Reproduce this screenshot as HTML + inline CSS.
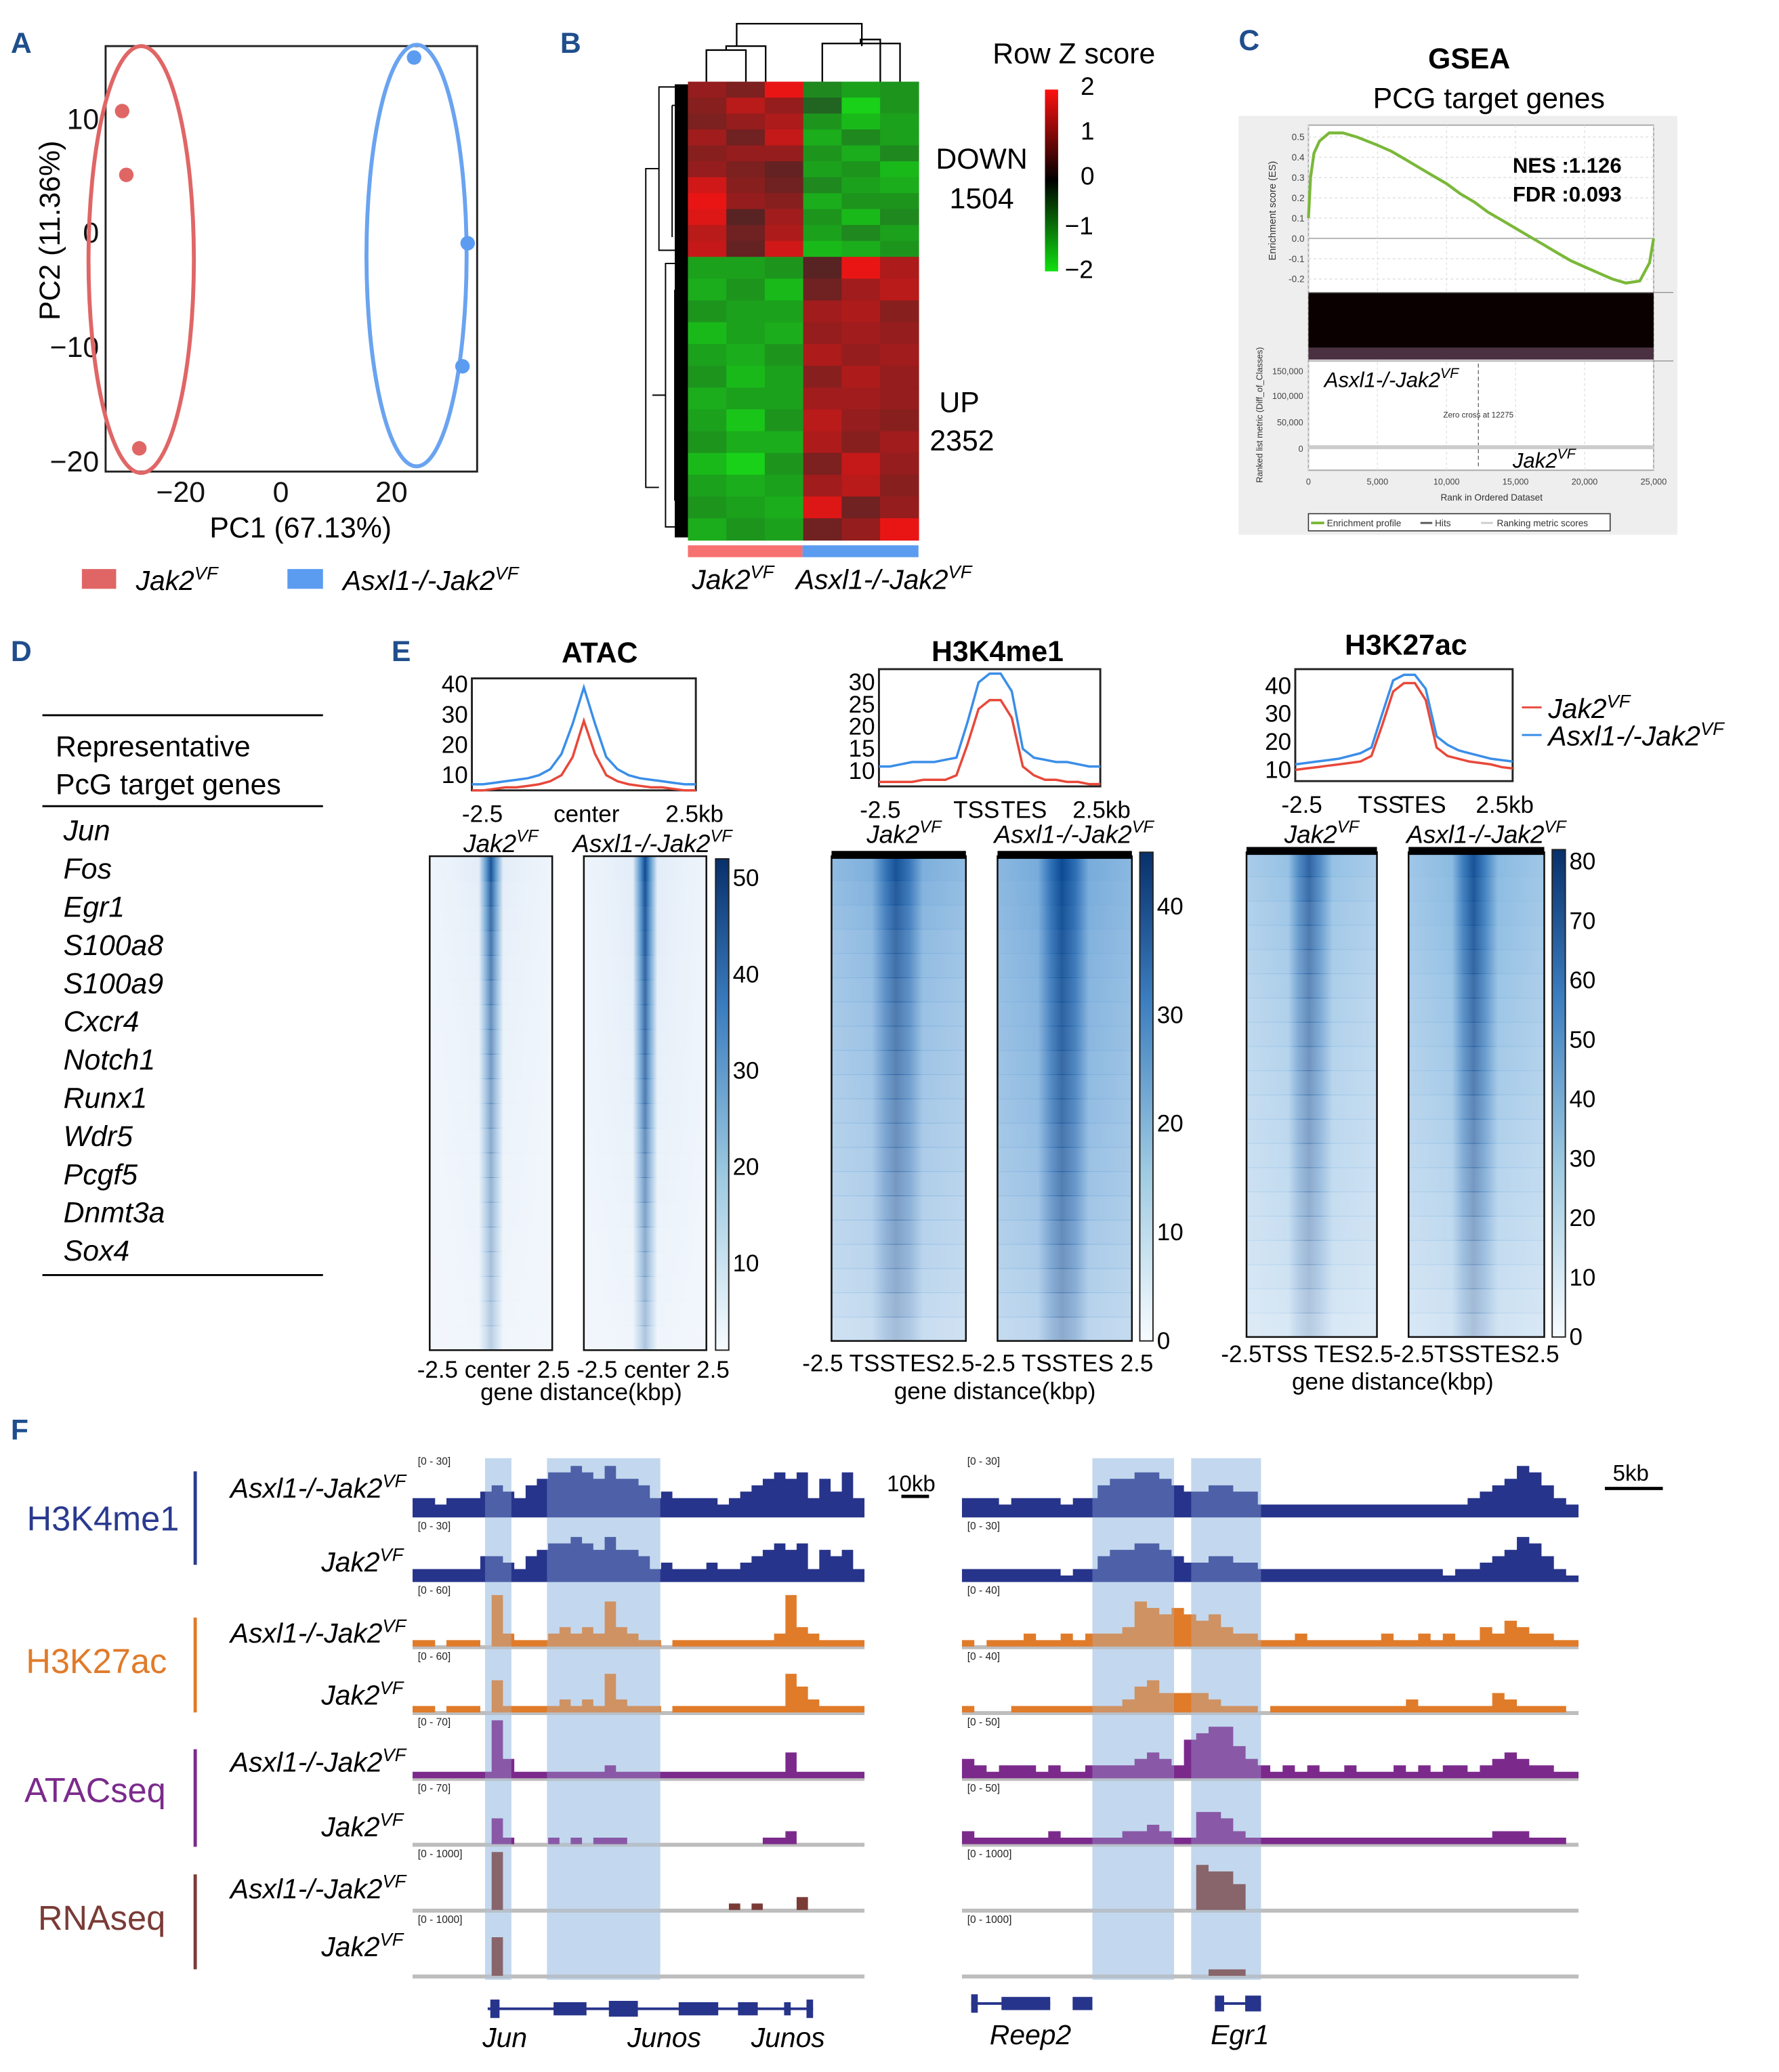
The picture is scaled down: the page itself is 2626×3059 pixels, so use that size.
<!DOCTYPE html>
<html><head><meta charset="utf-8">
<style>
html,body{margin:0;padding:0;background:#fff;}
svg{display:block;font-family:"Liberation Sans",Arial,sans-serif;}
.it{font-style:italic;}
</style></head>
<body>
<svg id="fig" xmlns="http://www.w3.org/2000/svg" width="2626" height="3059" viewBox="0 0 1350 1573">
<defs>
  <linearGradient id="zcb" x1="0" y1="0" x2="0" y2="1">
    <stop offset="0" stop-color="#ff1010"/><stop offset="0.5" stop-color="#000"/><stop offset="1" stop-color="#10e010"/>
  </linearGradient>
  <linearGradient id="bcb" x1="0" y1="1" x2="0" y2="0">
    <stop offset="0" stop-color="#f7fbff"/><stop offset="0.35" stop-color="#9ecae1"/><stop offset="0.7" stop-color="#3b7dbf"/><stop offset="1" stop-color="#08306b"/>
  </linearGradient>
  <linearGradient id="gAtac" x1="0" x2="1">
    <stop offset="0" stop-color="#eef4fb"/><stop offset="0.4" stop-color="#e3edf8"/><stop offset="0.46" stop-color="#5a96cc"/><stop offset="0.5" stop-color="#0f4c94"/><stop offset="0.54" stop-color="#5a96cc"/><stop offset="0.6" stop-color="#e3edf8"/><stop offset="1" stop-color="#eef4fb"/>
  </linearGradient>
  <linearGradient id="gK4" x1="0" x2="1">
    <stop offset="0" stop-color="#8bb8e0"/><stop offset="0.3" stop-color="#78acdb"/><stop offset="0.4" stop-color="#2d6fb5"/><stop offset="0.48" stop-color="#0d4a92"/><stop offset="0.58" stop-color="#2d6fb5"/><stop offset="0.68" stop-color="#78acdb"/><stop offset="1" stop-color="#8bb8e0"/>
  </linearGradient>
  <linearGradient id="gK27" x1="0" x2="1">
    <stop offset="0" stop-color="#9cc4e6"/><stop offset="0.32" stop-color="#86b8e0"/><stop offset="0.4" stop-color="#3478bb"/><stop offset="0.48" stop-color="#0d4a92"/><stop offset="0.56" stop-color="#3478bb"/><stop offset="0.66" stop-color="#86b8e0"/><stop offset="1" stop-color="#9cc4e6"/>
  </linearGradient>
</defs>

<g font-weight="bold" font-size="22" fill="#1f4e8c">
<text x="8" y="40">A</text>
<text x="425" y="40">B</text>
<text x="940" y="38">C</text>
<text x="8" y="502">D</text>
<text x="297" y="502">E</text>
<text x="8" y="1093">F</text>
</g>

<g id="pA">
<rect x="80" y="35" width="282" height="323" fill="none" stroke="#222" stroke-width="1.5"/>
<g font-size="22" fill="#111">
<text x="75" y="98" text-anchor="end">10</text>
<text x="75" y="184" text-anchor="end">0</text>
<text x="75" y="271" text-anchor="end">−10</text>
<text x="75" y="358" text-anchor="end">−20</text>
</g>
<g font-size="22" fill="#111" text-anchor="middle">
<text x="137" y="381">−20</text><text x="213" y="381">0</text><text x="297" y="381">20</text>
</g>
<text x="228" y="408" font-size="22" text-anchor="middle">PC1 (67.13%)</text>
<text transform="translate(45,175) rotate(-90)" font-size="22" text-anchor="middle">PC2 (11.36%)</text>
<ellipse cx="107" cy="197" rx="40" ry="162" fill="none" stroke="#e06666" stroke-width="3"/>
<ellipse cx="316" cy="194" rx="38" ry="160" fill="none" stroke="#6aa3f0" stroke-width="3"/>
<g id="pcaPts"></g>
<rect x="62" y="432" width="26" height="15" fill="#e06666"/>
<text x="103" y="448" font-size="21" class="it">Jak2<tspan dy="-8" font-size="14">VF</tspan></text>
<rect x="218" y="432" width="27" height="15" fill="#5b9cf0"/>
<text x="260" y="448" font-size="21" class="it">Asxl1-/-Jak2<tspan dy="-8" font-size="14">VF</tspan></text>
</g>

<g id="pB">
<g id="hmB"></g>
<g stroke="#000" stroke-width="1.2" fill="none">
<path d="M536 62V38H566V62 M551 38V35H581V62 M559 35V18H654V35 M624 62V33H683V62 M653 33V30H668V62 M654 30V35"/>
</g>
<g stroke="#000" stroke-width="1" fill="none">
<path d="M522 66H500V190H522 M500 128H490V370H500 M522 200H505V400H522 M505 300H495 M510 80H522 M510 80V180 M512 220V380 M512 260H522 M514 320H522"/>
<rect x="512" y="64" width="10" height="344" fill="#000" stroke="none"/>
</g>
<rect x="522" y="414" width="87" height="9" fill="#f87171"/>
<rect x="609" y="414" width="88" height="9" fill="#5b9cf0"/>
<text x="525" y="447" font-size="21" class="it">Jak2<tspan dy="-8" font-size="14">VF</tspan></text>
<text x="604" y="447" font-size="21" class="it">Asxl1-/-Jak2<tspan dy="-8" font-size="14">VF</tspan></text>
<text x="815" y="48" font-size="22" text-anchor="middle">Row Z score</text>
<rect x="793" y="68" width="10" height="138" fill="url(#zcb)"/>
<g font-size="19">
<text x="820" y="72">2</text><text x="820" y="106">1</text><text x="820" y="140">0</text><text x="808" y="178">−1</text><text x="808" y="211">−2</text>
</g>
<text x="745" y="128" font-size="22" text-anchor="middle">DOWN</text>
<text x="745" y="158" font-size="22" text-anchor="middle">1504</text>
<text x="728" y="313" font-size="22" text-anchor="middle">UP</text>
<text x="730" y="342" font-size="22" text-anchor="middle">2352</text>
</g>

<g id="pC">
<text x="1115" y="52" font-size="22" font-weight="bold" text-anchor="middle">GSEA</text>
<text x="1130" y="82" font-size="22" text-anchor="middle">PCG target genes</text>
<rect x="940" y="88" width="333" height="318" fill="#eeeeee"/>
<rect x="993" y="95" width="262" height="262" fill="#fff" stroke="#aaa" stroke-width="1"/>
<g id="gseaGrid"></g>
<rect x="993" y="222" width="262" height="42" fill="#0a0000"/>
<rect x="993" y="264" width="262" height="9" fill="#4a3040"/>
<line x1="993" y1="222" x2="1270" y2="222" stroke="#999" stroke-width="0.8"/>
<line x1="993" y1="274" x2="1270" y2="274" stroke="#999" stroke-width="0.8"/>
<path id="gseaES" fill="none" stroke="#7ab839" stroke-width="2.2"/>
<line x1="1122" y1="276" x2="1122" y2="355" stroke="#666" stroke-width="0.7" stroke-dasharray="3 2"/>
<text x="1122" y="317" font-size="6" text-anchor="middle" fill="#333">Zero cross at 12275</text>
<rect x="993" y="338" width="262" height="3" fill="#ccc"/>
<g font-size="7" fill="#444" text-anchor="end" id="gseaYt"></g>
<g font-size="6.5" fill="#444" text-anchor="end">
<text x="989" y="284">150,000</text><text x="989" y="303">100,000</text><text x="989" y="323">50,000</text><text x="989" y="343">0</text>
</g>
<g font-size="6.5" fill="#444" text-anchor="middle" id="gseaXt"></g>
<text x="1132" y="380" font-size="7" text-anchor="middle" fill="#333">Rank in Ordered Dataset</text>
<text transform="translate(968,160) rotate(-90)" font-size="7.5" text-anchor="middle" fill="#333">Enrichment score (ES)</text>
<text transform="translate(958,315) rotate(-90)" font-size="6.5" text-anchor="middle" fill="#333">Ranked list metric (Diff_of_Classes)</text>
<text x="1148" y="131" font-size="16" font-weight="bold">NES :1.126</text>
<text x="1148" y="153" font-size="16" font-weight="bold">FDR :0.093</text>
<text x="1005" y="294" font-size="16" class="it">Asxl1-/-Jak2<tspan dy="-7" font-size="11">VF</tspan></text>
<text x="1148" y="355" font-size="16" class="it">Jak2<tspan dy="-7" font-size="11">VF</tspan></text>
<rect x="993" y="390" width="229" height="13" fill="#fff" stroke="#333" stroke-width="0.8"/>
<line x1="995" y1="397" x2="1005" y2="397" stroke="#7ab839" stroke-width="2"/>
<text x="1007" y="399.5" font-size="7" fill="#333">Enrichment profile</text>
<line x1="1078" y1="397" x2="1087" y2="397" stroke="#555" stroke-width="1.5"/>
<text x="1089" y="399.5" font-size="7" fill="#333">Hits</text>
<line x1="1124" y1="397" x2="1133" y2="397" stroke="#ccc" stroke-width="1.5"/>
<text x="1136" y="399.5" font-size="7" fill="#333">Ranking metric scores</text>
</g>

<g id="pD">
<line x1="32" y1="543" x2="245" y2="543" stroke="#000" stroke-width="1.5"/>
<text x="42" y="574" font-size="22">Representative</text>
<text x="42" y="603" font-size="22">PcG target genes</text>
<line x1="32" y1="612" x2="245" y2="612" stroke="#000" stroke-width="1.5"/>
<g font-size="22" class="it" id="geneList"></g>
<line x1="32" y1="968" x2="245" y2="968" stroke="#000" stroke-width="1.5"/>
</g>

<g id="pE">
<text x="455" y="503" font-size="22" font-weight="bold" text-anchor="middle">ATAC</text>
<text x="757" y="502" font-size="22" font-weight="bold" text-anchor="middle">H3K4me1</text>
<text x="1067" y="497" font-size="22" font-weight="bold" text-anchor="middle">H3K27ac</text>
<g id="profiles"></g>
<g id="heatmapsE"></g>
<line x1="1155" y1="537" x2="1170" y2="537" stroke="#e8483a" stroke-width="1.5"/>
<text x="1175" y="545" font-size="21" class="it">Jak2<tspan dy="-8" font-size="14">VF</tspan></text>
<line x1="1155" y1="558" x2="1170" y2="558" stroke="#3a8ee8" stroke-width="1.5"/>
<text x="1175" y="566" font-size="21" class="it">Asxl1-/-Jak2<tspan dy="-8" font-size="14">VF</tspan></text>
</g>

<g id="pF">
<g id="bandsF"></g>
<g id="tracksF"></g>
<g id="bandsTop"></g>
<g font-size="26">
<text x="78" y="1162" fill="#2a3a8f" text-anchor="middle">H3K4me1</text>
<text x="73" y="1270" fill="#e07b2a" text-anchor="middle">H3K27ac</text>
<text x="72" y="1368" fill="#7b2a8c" text-anchor="middle">ATACseq</text>
<text x="77" y="1465" fill="#7a3b36" text-anchor="middle">RNAseq</text>
</g>
<g stroke-width="2.5">
<line x1="148" y1="1117" x2="148" y2="1188" stroke="#2a3a8f"/>
<line x1="148" y1="1228" x2="148" y2="1300" stroke="#e07b2a"/>
<line x1="148" y1="1328" x2="148" y2="1402" stroke="#7b2a8c"/>
<line x1="148" y1="1423" x2="148" y2="1495" stroke="#7a3b36"/>
</g>
<g id="sampleLabels" font-size="21" class="it" text-anchor="end"></g>
<g font-size="17">
<text x="673" y="1132">10kb</text><line x1="684" y1="1136" x2="705" y2="1136" stroke="#000" stroke-width="2.5"/>
<text x="1224" y="1124">5kb</text><line x1="1218" y1="1130" x2="1262" y2="1130" stroke="#000" stroke-width="2.5"/>
</g>
<g id="genesF"></g>
<g font-size="21" class="it" text-anchor="middle">
<text x="383" y="1554">Jun</text><text x="504" y="1554">Junos</text><text x="598" y="1554">Junos</text>
<text x="782" y="1552">Reep2</text><text x="941" y="1552">Egr1</text>
</g>
</g>
</svg>

<script>
var NS="http://www.w3.org/2000/svg";
function mk(tag,parent){var e=document.createElementNS(NS,tag);parent.appendChild(e);return e;}

/* ---------- Panel A data ---------- */
var pcaJakX=[-30.5,-29.7,-27.2];
var pcaJakY=[10.6,5.0,-19.0];
var pcaAsxX=[25.6,35.9,34.9];
var pcaAsxY=[15.3,-1.0,-11.8];
function pcx(v){return 213+v*3.95;}
function pcy(v){return 176-v*8.65;}
(function(){
 var g=document.getElementById('pcaPts');
 for(var i=0;i<pcaJakX.length;i++){var c=mk('circle',g);c.setAttribute('cx',pcx(pcaJakX[i]));c.setAttribute('cy',pcy(pcaJakY[i]));c.setAttribute('r',5.5);c.setAttribute('fill','#e06666');
  
  }
 for(var j=0;j<pcaAsxX.length;j++){var d=mk('circle',g);d.setAttribute('cx',pcx(pcaAsxX[j]));d.setAttribute('cy',pcy(pcaAsxY[j]));d.setAttribute('r',5.5);d.setAttribute('fill','#5b9cf0');
  
  }
})();

/* ---------- Panel B data ---------- */
var zDown=[[0.9,0.7,1.6,-0.8,-1.0,-0.9],[0.8,1.2,0.9,-0.5,-1.4,-0.9],[0.7,0.9,1.1,-0.9,-1.2,-1.0],[1.0,0.6,1.3,-1.1,-0.8,-1.0],[0.8,0.9,0.9,-0.9,-1.1,-0.8],[0.9,0.7,0.5,-1.0,-0.9,-1.2],[1.4,0.8,0.6,-0.8,-1.0,-1.1],[1.6,0.9,0.8,-1.1,-0.9,-0.9],[1.5,0.4,1.0,-0.9,-1.2,-0.8],[1.2,0.6,1.1,-1.0,-0.8,-1.0],[1.3,0.5,1.4,-1.2,-1.1,-0.9]];
var zUp=[[-1.0,-1.0,-0.9,0.4,1.6,1.1],[-1.1,-0.9,-1.2,0.6,1.0,1.2],[-0.9,-1.0,-1.0,1.0,1.1,0.8],[-1.2,-1.0,-1.1,0.9,1.0,0.9],[-1.0,-1.1,-0.9,1.1,0.9,1.0],[-0.9,-1.2,-1.0,0.8,1.1,0.9],[-1.1,-1.0,-1.0,1.0,1.0,0.9],[-1.0,-1.3,-0.9,1.2,0.9,0.8],[-0.9,-1.1,-1.1,1.1,0.8,1.0],[-1.2,-1.4,-0.9,0.7,1.3,0.9],[-1.0,-1.1,-1.0,1.0,1.2,0.8],[-0.9,-1.0,-1.1,1.5,0.6,0.9],[-1.1,-0.9,-1.0,0.6,0.9,1.6]];
function zColor(v){var a=Math.min(1,Math.abs(v)/1.7);var c=Math.round(40+a*205);var l=Math.round(40-a*20);return v>=0?'rgb('+c+','+l+','+l+')':'rgb('+l+','+c+','+l+')';}
(function(){
 var g=document.getElementById('hmB');var x0=522,w=29.17,top=62,mid=195,bot=410;
 var hD=(mid-top)/zDown.length,hU=(bot-mid)/zUp.length;
 zDown.forEach(function(row,r){row.forEach(function(v,c){var e=mk('rect',g);e.setAttribute('x',x0+c*w);e.setAttribute('y',top+r*hD);e.setAttribute('width',w+0.4);e.setAttribute('height',hD+0.4);e.setAttribute('fill',zColor(v));
  
  });});
 zUp.forEach(function(row,r){row.forEach(function(v,c){var e=mk('rect',g);e.setAttribute('x',x0+c*w);e.setAttribute('y',mid+r*hU);e.setAttribute('width',w+0.4);e.setAttribute('height',hU+0.4);e.setAttribute('fill',zColor(v));
  
  });});
})();

/* ---------- Panel C data ---------- */
var esRanks=[0,150,400,800,1500,2500,3500,5000,6000,7000,8000,9000,10000,11000,12000,13000,14000,15000,16000,17000,18000,19000,20000,21000,22000,23000,24000,24700,25000];
var esValues=[0.10,0.30,0.42,0.48,0.52,0.52,0.50,0.46,0.43,0.39,0.35,0.31,0.27,0.22,0.18,0.13,0.09,0.05,0.01,-0.03,-0.07,-0.11,-0.14,-0.17,-0.20,-0.22,-0.21,-0.12,0.0];
var esTicks=[0.5,0.4,0.3,0.2,0.1,0.0,-0.1,-0.2];
var rankTicks=[0,5000,10000,15000,20000,25000];
var rankTickLabels=['0','5,000','10,000','15,000','20,000','25,000'];
function gx(r){return 993+r/25000*262;}
function gy(v){return 181-v*154;}
(function(){
 var d='';for(var i=0;i<esRanks.length;i++){d+=(i?'L':'M')+gx(esRanks[i]).toFixed(1)+' '+gy(esValues[i]).toFixed(1);}
 document.getElementById('gseaES').setAttribute('d',d);
 var gg=document.getElementById('gseaGrid'),yt=document.getElementById('gseaYt'),xt=document.getElementById('gseaXt');
 esTicks.forEach(function(t){var l=mk('line',gg);l.setAttribute('x1',993);l.setAttribute('x2',1255);l.setAttribute('y1',gy(t));l.setAttribute('y2',gy(t));l.setAttribute('stroke',t===0?'#999':'#ddd');if(t!==0)l.setAttribute('stroke-dasharray','2 2');l.setAttribute('stroke-width',0.7);
  
  
  var tx=mk('text',yt);tx.setAttribute('x',990);tx.setAttribute('y',gy(t)+2.5);tx.textContent=t.toFixed(1);
  
  });
 rankTicks.forEach(function(r,i){var l=mk('line',gg);l.setAttribute('x1',gx(r));l.setAttribute('x2',gx(r));l.setAttribute('y1',95);l.setAttribute('y2',357);l.setAttribute('stroke','#e2e2e2');l.setAttribute('stroke-dasharray','2 2');l.setAttribute('stroke-width',0.7);
  
  
  var tx=mk('text',xt);tx.setAttribute('x',gx(r));tx.setAttribute('y',368);tx.textContent=rankTickLabels[i];
  
  });
})();

/* ---------- Panel D ---------- */
var pcgGenes=['Jun','Fos','Egr1','S100a8','S100a9','Cxcr4','Notch1','Runx1','Wdr5','Pcgf5','Dnmt3a','Sox4'];
(function(){var g=document.getElementById('geneList');pcgGenes.forEach(function(n,i){var t=mk('text',g);t.setAttribute('x',48);t.setAttribute('y',638+i*29);t.textContent=n;
 
 });})();

/* ---------- Panel E data ---------- */
var atacJak=[5,5,5.5,6,6,6.5,7,8,10,16,28,17,10,8,7,6.5,6,6,5.5,5,5];
var atacAsx=[7,7,7.5,8,8.5,9,10,12,17,27,39,27,16,12,10,9,8.5,8,7.5,7,7];
var k4Jak=[7.5,7.5,7.5,7.5,8,8,8,9,16,24,26,26,22,11,9,8,8,7.5,7.5,7,7];
var k4Asx=[11,11,11.5,12,12,12,12.5,13,21,30,32,32,28,15,13,12.5,12,12,11.5,11,11];
var k27Jak=[10,10.5,11,11.5,12,12.5,13,15,26,38,41,41,35,18,15,14,13,12.5,12,11,10.5];
var k27Asx=[12,12.5,13,13.5,14,15,16,18,30,42,44,44,39,22,19,17,16,15,14,13.5,13];
var rowAtacJak=[0.95,0.85,0.8,0.75,0.7,0.65,0.6,0.58,0.55,0.5,0.48,0.45,0.42,0.4,0.38,0.35,0.33,0.3,0.28,0.25];
var rowAtacAsx=[1,0.95,0.92,0.9,0.85,0.82,0.8,0.78,0.75,0.72,0.68,0.62,0.58,0.55,0.5,0.45,0.42,0.38,0.34,0.3];
var rowK4Jak=[0.95,0.9,0.85,0.8,0.78,0.75,0.72,0.7,0.68,0.65,0.62,0.6,0.58,0.55,0.52,0.5,0.47,0.44,0.4,0.35];
var rowK4Asx=[1,0.97,0.95,0.92,0.9,0.88,0.86,0.85,0.82,0.8,0.78,0.75,0.72,0.7,0.66,0.62,0.58,0.54,0.5,0.45];
var rowK27Jak=[0.85,0.8,0.75,0.72,0.68,0.65,0.62,0.6,0.57,0.55,0.52,0.5,0.47,0.45,0.42,0.4,0.37,0.34,0.3,0.26];
var rowK27Asx=[0.95,0.92,0.9,0.87,0.84,0.8,0.78,0.75,0.72,0.7,0.66,0.62,0.58,0.55,0.52,0.48,0.44,0.4,0.36,0.32];
var cbAtacTicks=[50,40,30,20,10];
var cbK4Ticks=[40,30,20,10,0];
var cbK27Ticks=[80,70,60,50,40,30,20,10,0];

function profile(g,name,box,ymin,ymax,yticks,jak,asx,xl){
 var r=mk('rect',g);r.setAttribute('x',box[0]);r.setAttribute('y',box[1]);r.setAttribute('width',box[2]-box[0]);r.setAttribute('height',box[3]-box[1]);r.setAttribute('fill','#fff');r.setAttribute('stroke','#222');r.setAttribute('stroke-width',1.5);
 
 
 function px(i){return box[0]+i/(jak.length-1)*(box[2]-box[0]);}
 function py(v){return box[3]-(v-ymin)/(ymax-ymin)*(box[3]-box[1]);}
 [[jak,'#e8483a','jak2'],[asx,'#3a8ee8','asxl1']].forEach(function(s){var d='';s[0].forEach(function(v,i){d+=(i?'L':'M')+px(i).toFixed(1)+' '+py(v).toFixed(1);});
  var p=mk('path',g);p.setAttribute('d',d);p.setAttribute('fill','none');p.setAttribute('stroke',s[1]);p.setAttribute('stroke-width',1.8);
  
  });
 yticks.forEach(function(t){var tx=mk('text',g);tx.setAttribute('x',box[0]-3);tx.setAttribute('y',py(t)+6);tx.setAttribute('text-anchor','end');tx.setAttribute('font-size',18);tx.textContent=t;
  
  });
 xl.forEach(function(l){var tx=mk('text',g);tx.setAttribute('x',l[0]);tx.setAttribute('y',box[3]+24);tx.setAttribute('text-anchor','middle');tx.setAttribute('font-size',18);tx.textContent=l[1];
  
  });
}
var pg=document.getElementById('profiles');
profile(pg,'atac',[358,515,528,600],5,42,[40,30,20,10],atacJak,atacAsx,[[366,'-2.5'],[445,'center'],[527,'2.5kb']]);
profile(pg,'h3k4me1',[667,508,835,597],6.5,33,[30,25,20,15,10],k4Jak,k4Asx,[[668,'-2.5'],[741,'TSS'],[777,'TES'],[836,'2.5kb']]);
profile(pg,'h3k27ac',[983,508,1148,593],6,46,[40,30,20,10],k27Jak,k27Asx,[[988,'-2.5'],[1048,'TSS'],[1080,'TES'],[1142,'2.5kb']]);

function hm(g,name,x,y,w,h,rows,grad,topbar){
 var bg=mk('rect',g);bg.setAttribute('x',x);bg.setAttribute('y',y);bg.setAttribute('width',w);bg.setAttribute('height',h);bg.setAttribute('fill','#f4f8fc');
 
 
 var rh=h/rows.length;
 rows.forEach(function(v,i){var r=mk('rect',g);r.setAttribute('x',x);r.setAttribute('y',y+i*rh);r.setAttribute('width',w);r.setAttribute('height',rh+0.5);r.setAttribute('fill','url(#'+grad+')');r.setAttribute('opacity',v);
  
  });
 var f=mk('rect',g);f.setAttribute('x',x);f.setAttribute('y',y);f.setAttribute('width',w);f.setAttribute('height',h);f.setAttribute('fill','none');f.setAttribute('stroke','#111');f.setAttribute('stroke-width',1.3);
 
 
 if(topbar){var t=mk('rect',g);t.setAttribute('x',x);t.setAttribute('y',y-4);t.setAttribute('width',w);t.setAttribute('height',6);t.setAttribute('fill','#000');
  
  }
}
function cbar(g,name,x,y,h,ticks,vmin,vmax){
 var r=mk('rect',g);r.setAttribute('x',x);r.setAttribute('y',y);r.setAttribute('width',10);r.setAttribute('height',h);r.setAttribute('fill','url(#bcb)');r.setAttribute('stroke','#222');r.setAttribute('stroke-width',1);
 
 
 ticks.forEach(function(t){var yy=y+h-(t-vmin)/(vmax-vmin)*h;var tx=mk('text',g);tx.setAttribute('x',x+13);tx.setAttribute('y',yy+6);tx.setAttribute('font-size',18);tx.textContent=t;
  
  });
}
function lbl(g,name,x,y,txt,sup,size,anchor){var t=mk('text',g);t.setAttribute('x',x);t.setAttribute('y',y);t.setAttribute('font-size',size||19);t.setAttribute('font-style','italic');if(anchor)t.setAttribute('text-anchor',anchor);t.textContent=txt;
 
 
 if(sup){var s=mk('tspan',t);s.setAttribute('dy',-8);s.setAttribute('font-size',13);s.textContent=sup;}}
function txt(g,name,x,y,s,size){var t=mk('text',g);t.setAttribute('x',x);t.setAttribute('y',y);t.setAttribute('font-size',size||18);t.setAttribute('text-anchor','middle');t.textContent=s;
 
 }
var hg=document.getElementById('heatmapsE');
hm(hg,'atac-jak2',326,650,93,375,rowAtacJak,'gAtac',false);
hm(hg,'atac-asxl1',443,650,93,375,rowAtacAsx,'gAtac',false);
cbar(hg,'atac',543,652,373,cbAtacTicks,1,52);
lbl(hg,'atac-heatmap-label-jak2',380,647,'Jak2','VF',19,'middle');
lbl(hg,'atac-heatmap-label-asxl1',495,647,'Asxl1-/-Jak2','VF',19,'middle');
txt(hg,'atac-heatmap-xticks',435,1046,'-2.5 center 2.5 -2.5 center  2.5');
txt(hg,'atac-x-axis-title',441,1063,'gene distance(kbp)');
hm(hg,'h3k4me1-jak2',631,650,102,368,rowK4Jak,'gK4',true);
hm(hg,'h3k4me1-asxl1',757,650,102,368,rowK4Asx,'gK4',true);
cbar(hg,'h3k4me1',865,647,371,cbK4Ticks,0,45);
lbl(hg,'h3k4me1-heatmap-label-jak2',686,640,'Jak2','VF',19,'middle');
lbl(hg,'h3k4me1-heatmap-label-asxl1',815,640,'Asxl1-/-Jak2','VF',19,'middle');
txt(hg,'h3k4me1-heatmap-xticks',742,1041,'-2.5 TSSTES2.5-2.5 TSSTES 2.5');
txt(hg,'h3k4me1-x-axis-title',755,1062,'gene distance(kbp)');
hm(hg,'h3k27ac-jak2',946,647,99,368,rowK27Jak,'gK27',true);
hm(hg,'h3k27ac-asxl1',1069,647,103,368,rowK27Asx,'gK27',true);
cbar(hg,'h3k27ac',1178,645,370,cbK27Ticks,0,82);
lbl(hg,'h3k27ac-heatmap-label-jak2',1003,640,'Jak2','VF',19,'middle');
lbl(hg,'h3k27ac-heatmap-label-asxl1',1128,640,'Asxl1-/-Jak2','VF',19,'middle');
txt(hg,'h3k27ac-heatmap-xticks',1055,1034,'-2.5TSS TES2.5-2.5TSSTES2.5');
txt(hg,'h3k27ac-x-axis-title',1057,1055,'gene distance(kbp)');

/* ---------- Panel F data ---------- */
var leftK4Asx ="3323334543567787686653433332345676736473".split('').map(Number);
var leftK4Jak ="2222224432456676575542322232234565625452".split('').map(Number);
var leftK27Asx=("1101110"+"8"+"2111"+"23232"+"7"+"3211"+"01111111112"+"8"+"321111").split('').map(Number);
var leftK27Jak=("1101110"+"5"+"1111"+"12121"+"6"+"2111"+"01111111111"+"6"+"421111").split('').map(Number);
var leftAtacAsx=("1111111"+"9"+"3111"+"11111"+"2"+"1111"+"11111111111"+"4"+"111111").split('').map(Number);
var leftAtacJak=("0000000"+"4"+"1000"+"10101"+"1"+"1000"+"00000000011"+"2"+"000000").split('').map(Number);
var leftRnaAsx=("0000000"+"9"+"0000"+"00000"+"0"+"0000"+"00000010100"+"0"+"200000").split('').map(Number);
var leftRnaJak=("0000000"+"6"+"0000"+"00000"+"0"+"0000"+"00000000000"+"0"+"000000").split('').map(Number);
var rightK4Asx=("3332333323"+"3566776"+"5"+"445544"+"222222222222222223"+"45687"+"532").split('').map(Number);
var rightK4Jak=("2222222212"+"2455665"+"4"+"334433"+"222222222222222122"+"34576"+"421").split('').map(Number);
var rightK27Asx=("1011121121"+"2223765"+"6"+"545322"+"111211111121121211"+"32432"+"211").split('').map(Number);
var rightK27Jak=("1000111111"+"1112453"+"3"+"332111"+"011111111111211111"+"13211"+"110").split('').map(Number);
var rightAtacAsx=("3212221211"+"2222343"+"2"+"678853"+"212121121112121221"+"23432"+"211").split('').map(Number);
var rightAtacJak=("2111111211"+"1112232"+"1"+"155421"+"111111111111111111"+"12221"+"110").split('').map(Number);
var rightRnaAsx=("0000000000"+"0000000"+"0"+"076640"+"000000000000000000"+"00000"+"000").split('').map(Number);
var rightRnaJak=("0000000000"+"0000000"+"0"+"001110"+"000000000000000000"+"00000"+"000").split('').map(Number);
var trackScales=['[0 - 30]','[0 - 30]','[0 - 60]','[0 - 60]','[0 - 70]','[0 - 70]','[0 - 1000]','[0 - 1000]'];
var trackScalesR=['[0 - 30]','[0 - 30]','[0 - 40]','[0 - 40]','[0 - 50]','[0 - 50]','[0 - 1000]','[0 - 1000]'];

var baselines=[1152,1201,1250,1300,1350,1400,1450,1500];
var colors=['#27348b','#27348b','#e07b2a','#e07b2a','#7b2a8c','#7b2a8c','#7a3b36','#7a3b36'];
var leftTracks=[leftK4Asx,leftK4Jak,leftK27Asx,leftK27Jak,leftAtacAsx,leftAtacJak,leftRnaAsx,leftRnaJak];
var rightTracks=[rightK4Asx,rightK4Jak,rightK27Asx,rightK27Jak,rightAtacAsx,rightAtacJak,rightRnaAsx,rightRnaJak];
var trackNames=['h3k4me1-asxl1','h3k4me1-jak2','h3k27ac-asxl1','h3k27ac-jak2','atac-asxl1','atac-jak2','rnaseq-asxl1','rnaseq-jak2'];
var bands=[[368,388],[415,501],[829,891],[904,957]];
(function(){
 var bg=document.getElementById('bandsF'),bt=document.getElementById('bandsTop'),tg=document.getElementById('tracksF');
 bands.forEach(function(b){var r=mk('rect',bg);r.setAttribute('x',b[0]);r.setAttribute('y',1107);r.setAttribute('width',b[1]-b[0]);r.setAttribute('height',396);r.setAttribute('fill','#cfe0f1');
  
  
  var o=mk('rect',bt);o.setAttribute('x',b[0]);o.setAttribute('y',1107);o.setAttribute('width',b[1]-b[0]);o.setAttribute('height',396);o.setAttribute('fill','#a9c8e8');o.setAttribute('opacity',0.3);});
 function draw(tracks,x0,x1,side,scales){
  tracks.forEach(function(arr,t){var base=baselines[t];var bw=(x1-x0)/arr.length;var d='M'+x0+' '+base;
   arr.forEach(function(v,i){var y=base-v/9*44;d+='L'+(x0+i*bw).toFixed(1)+' '+y.toFixed(1)+'L'+(x0+(i+1)*bw).toFixed(1)+' '+y.toFixed(1);});
   d+='L'+x1+' '+base+'Z';
   if(t>=2){var gl=mk('rect',tg);gl.setAttribute('x',x0);gl.setAttribute('y',base-1);gl.setAttribute('width',x1-x0);gl.setAttribute('height',3);gl.setAttribute('fill','#bdbdbd');}
   var p=mk('path',tg);p.setAttribute('d',d);p.setAttribute('fill',colors[t]);
   
   
   var s=mk('text',tg);s.setAttribute('x',x0+4);s.setAttribute('y',base-40);s.setAttribute('font-size',8);s.setAttribute('fill','#222');s.textContent=scales[t];
   
   });
 }
 draw(leftTracks,313,656,'jun-locus',trackScales);
 draw(rightTracks,730,1198,'egr1-locus',trackScalesR);
 var sl=document.getElementById('sampleLabels');
 var labs=[['Asxl1-/-Jak2','VF',1137],['Jak2','VF',1193],['Asxl1-/-Jak2','VF',1247],['Jak2','VF',1294],['Asxl1-/-Jak2','VF',1345],['Jak2','VF',1394],['Asxl1-/-Jak2','VF',1441],['Jak2','VF',1485]];
 labs.forEach(function(l,i){var t=mk('text',sl);t.setAttribute('x',i%2?306:308);t.setAttribute('y',l[2]);t.textContent=l[0];
  
  
  var s=mk('tspan',t);s.setAttribute('dy',-8);s.setAttribute('font-size',14);s.textContent=l[1];});
 var gg=document.getElementById('genesF');
 var geneParts=[[370,617,1525,2],[372,379,1525,14],[420,445,1525,10],[462,484,1525,12],[515,545,1525,10],[560,575,1525,10],[595,600,1525,10],[612,617,1525,14],[737,797,1521,2],[737,742,1521,14],[760,797,1521,10],[814,829,1521,10],[922,957,1521,2],[922,929,1521,12],[945,957,1521,12]];
 geneParts.forEach(function(g){var r=mk('rect',gg);r.setAttribute('x',g[0]);r.setAttribute('y',g[2]-g[3]/2);r.setAttribute('width',g[1]-g[0]);r.setAttribute('height',g[3]);r.setAttribute('fill','#27348b');
  
  });
})();
</script>
</body></html>
